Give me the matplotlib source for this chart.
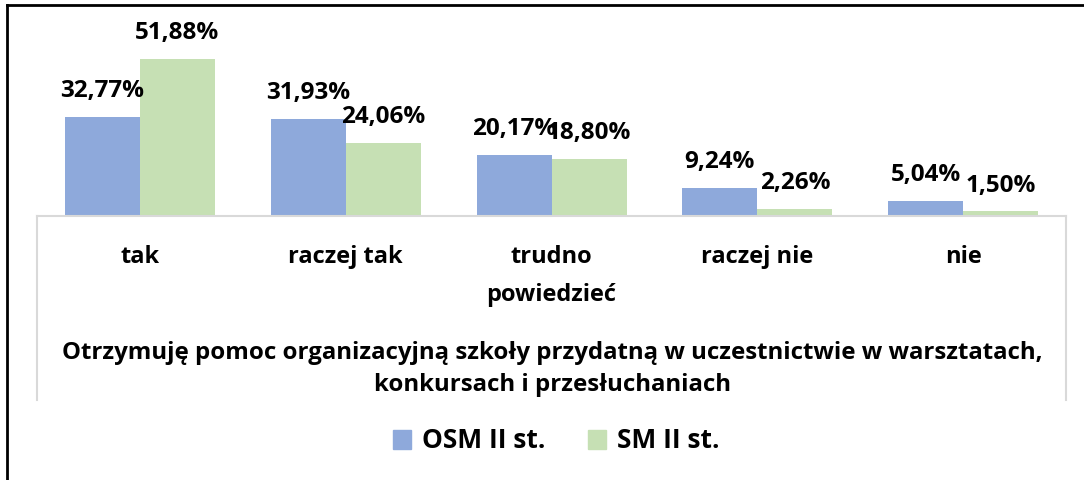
import matplotlib
matplotlib.use("Agg")
import matplotlib.pyplot as plt
from matplotlib.lines import Line2D
from matplotlib.patches import Rectangle
import numpy as np

categories = ["tak", "raczej tak", "trudno\npowiedzieć", "raczej nie", "nie"]
series_names = ["OSM II st.", "SM II st."]
osm = [32.77, 31.93, 20.17, 9.24, 5.04]
sm = [51.88, 24.06, 18.80, 2.26, 1.50]
title = "Otrzymuję pomoc organizacyjną szkoły przydatną w uczestnictwie w warsztatach,\nkonkursach i przesłuchaniach"

colors = ["#8EA9DB", "#C6E0B4"]
FONT = "Open Sans"
W, H = 1084, 480
fig = plt.figure(figsize=(W/100, H/100), dpi=100)

def fx(px): return px / W
def fy(py): return 1 - py / H

ax_left, ax_right, ax_top, ax_base = 37, 1066, 10, 216
ax = fig.add_axes([fx(ax_left), fy(ax_base), fx(ax_right - ax_left), (ax_base - ax_top) / H])
x = np.arange(len(categories))
bw = 75 / ((ax_right - ax_left) / len(categories))
ax.bar(x - bw/2, osm, width=bw, color=colors[0], label=series_names[0])
ax.bar(x + bw/2, sm, width=bw, color=colors[1], label=series_names[1])
ax.set_xlim(-0.5, len(categories) - 0.5)
ax.set_ylim(0, (ax_base - ax_top) / 3.03)

def fmt(v):
    return f"{v:.2f}".replace(".", ",") + "%"

LBL = 17.5
for xi, v in zip(x, osm):
    ax.annotate(fmt(v), (xi - bw/2, v), xytext=(0, 10), textcoords="offset points",
                ha="center", va="bottom", fontsize=LBL, fontweight="bold", family=FONT)
for xi, v in zip(x, sm):
    ax.annotate(fmt(v), (xi + bw/2, v), xytext=(0, 10), textcoords="offset points",
                ha="center", va="bottom", fontsize=LBL, fontweight="bold", family=FONT)

for s in ["top", "left", "right"]:
    ax.spines[s].set_visible(False)
ax.spines["bottom"].set_color("#D9D9D9")
ax.spines["bottom"].set_linewidth(1.5)
ax.set_yticks([])
ax.set_xticks(x)
ax.set_xticklabels(categories, fontsize=17, fontweight="bold", family=FONT, linespacing=1.75)
ax.tick_params(axis="x", length=0, pad=21)
ax.patch.set_alpha(0)

# category table lines
for px in (ax_left, ax_right):
    fig.add_artist(Line2D([fx(px), fx(px)], [fy(ax_base), fy(400)], color="#D9D9D9", lw=1.5))

# outer border (left and top)
fig.add_artist(Line2D([fx(7), fx(7)], [fy(5), 0], color="black", lw=2))
fig.add_artist(Line2D([fx(7), 1], [fy(5), fy(5)], color="black", lw=2))

fig.text(fx(552), fy(369), title, ha="center", va="center", fontsize=17.3,
         fontweight="bold", family=FONT, linespacing=1.42)

handles = [Rectangle((0, 0), 1, 1, color=c) for c in colors]
fig.legend(handles, series_names, loc="center", bbox_to_anchor=(fx(556), fy(441)), ncol=2,
           frameon=False, prop={"family": FONT, "weight": "bold", "size": 19},
           handlelength=0.7, handleheight=0.7, handletextpad=0.4, columnspacing=1.6)

fig.savefig("out.png", dpi=100, facecolor="white")
